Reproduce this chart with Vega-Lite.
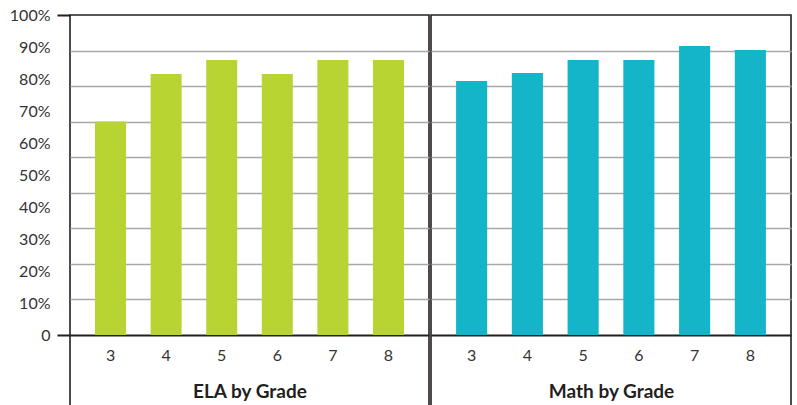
{
  "$schema": "https://vega.github.io/schema/vega-lite/v6.json",
  "autosize": "none",
  "padding": {"left": 70, "top": 15, "right": 727, "bottom": 390},
  "background": "white",
  "spacing": 0,
  "data": {
    "values": [
      {"subject": "ELA", "grade": "3", "pct": 66.7},
      {"subject": "ELA", "grade": "4", "pct": 81.6},
      {"subject": "ELA", "grade": "5", "pct": 85.9},
      {"subject": "ELA", "grade": "6", "pct": 81.6},
      {"subject": "ELA", "grade": "7", "pct": 85.9},
      {"subject": "ELA", "grade": "8", "pct": 85.9},
      {"subject": "Math", "grade": "3", "pct": 79.4},
      {"subject": "Math", "grade": "4", "pct": 81.9},
      {"subject": "Math", "grade": "5", "pct": 85.9},
      {"subject": "Math", "grade": "6", "pct": 85.9},
      {"subject": "Math", "grade": "7", "pct": 90.3},
      {"subject": "Math", "grade": "8", "pct": 89.1}
    ]
  },
  "config": {
    "view": {"stroke": "#231f20", "strokeWidth": 1.6},
    "font": "Lato",
    "axis": {"labelFont": "Lato", "titleFont": "Lato", "labelColor": "#333333", "titleColor": "#231f20"}
  },
  "hconcat": [
    {
      "width": 359,
      "height": 392,
      "transform": [{"filter": "datum.subject == 'ELA'"}],
      "mark": {"type": "bar", "color": "#b8d432"},
      "encoding": {
        "x": {
          "field": "grade",
          "type": "ordinal",
          "scale": {"paddingInner": 0.442, "paddingOuter": 0.45},
          "axis": {
            "title": "ELA by Grade",
            "titleFontSize": 19,
            "titleFontWeight": "bold",
            "titlePadding": 19,
            "labelAngle": 0,
            "labelFontSize": 16,
            "labelPadding": 12,
            "ticks": false,
            "domain": true,
            "domainColor": "#231f20",
            "domainWidth": 2,
            "offset": -72
          }
        },
        "y": {
          "field": "pct",
          "type": "quantitative",
          "scale": {"domain": [-22.5, 100], "nice": false},
          "axis": {
            "values": [0, 10, 11.1111, 20, 22.2222, 30, 33.3333, 40, 44.4444, 50, 55.5556, 60, 66.6667, 70, 77.7778, 80, 88.8889, 90, 100],
            "labelExpr": "datum.value % 10 == 0 ? (datum.value == 0 ? '0' : datum.value + '%') : ''",
            "grid": true,
            "gridOpacity": {"condition": {"test": "datum.value % 10 != 0", "value": 1}, "value": 0},
            "gridColor": "#a8a8a8",
            "gridWidth": 1.5,
            "ticks": true,
            "tickSize": 13,
            "tickColor": "#231f20",
            "tickWidth": 2,
            "tickOpacity": {"condition": {"test": "datum.value == 0 || datum.value == 100", "value": 1}, "value": 0},
            "domain": false,
            "labelPadding": 7,
            "labelFontSize": 16,
            "labelOverlap": false,
            "title": null
          }
        }
      }
    },
    {
      "width": 360,
      "height": 392,
      "transform": [{"filter": "datum.subject == 'Math'"}],
      "mark": {"type": "bar", "color": "#14b5c9"},
      "encoding": {
        "x": {
          "field": "grade",
          "type": "ordinal",
          "scale": {"paddingInner": 0.442, "paddingOuter": 0.45},
          "axis": {
            "title": "Math by Grade",
            "titleFontSize": 19,
            "titleFontWeight": "bold",
            "titlePadding": 19,
            "labelAngle": 0,
            "labelFontSize": 16,
            "labelPadding": 12,
            "ticks": false,
            "domain": true,
            "domainColor": "#231f20",
            "domainWidth": 2,
            "offset": -72
          }
        },
        "y": {
          "field": "pct",
          "type": "quantitative",
          "scale": {"domain": [-22.5, 100], "nice": false},
          "axis": {
            "values": [11.1111, 22.2222, 33.3333, 44.4444, 55.5556, 66.6667, 77.7778, 88.8889],
            "grid": true,
            "gridColor": "#a8a8a8",
            "gridWidth": 1.5,
            "labels": false,
            "ticks": false,
            "domain": false,
            "title": null
          }
        }
      }
    }
  ]
}
